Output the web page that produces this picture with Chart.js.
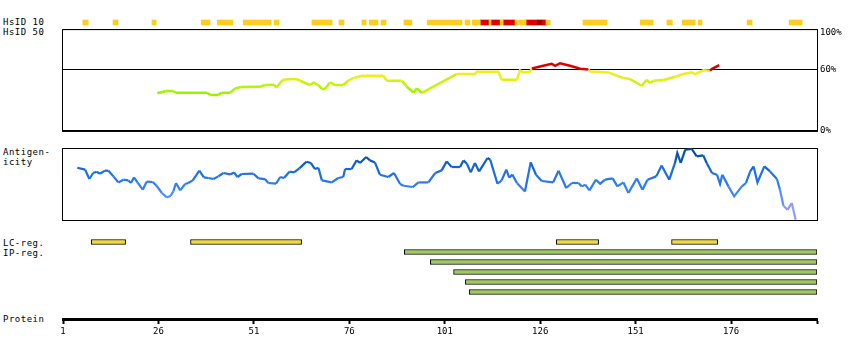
<!DOCTYPE html>
<html><head><meta charset="utf-8">
<script src="https://cdn.jsdelivr.net/npm/chart.js@4/dist/chart.umd.min.js"></script>
<style>
html,body{margin:0;padding:0;background:#fff;}
#wrap{position:relative;width:850px;height:360px;overflow:hidden;background:#fff;}
canvas{position:absolute;left:0;}
.lbl{position:absolute;left:3px;font-family:"DejaVu Sans Mono",monospace;font-size:9px;letter-spacing:0.5px;line-height:10px;color:#000;white-space:pre;}
</style></head><body>
<div id="wrap">
<div class="lbl" style="top:17px">HsID 10</div>
<div class="lbl" style="top:27px">HsID 50</div>
<div class="lbl" style="top:147px">Antigen-<br>icity</div>
<div class="lbl" style="top:237.5px">LC-reg.</div>
<div class="lbl" style="top:247.5px">IP-reg.</div>
<div class="lbl" style="top:314px">Protein</div>
<canvas id="c10" width="850" height="15" style="top:15px"></canvas>
<canvas id="c50" width="850" height="120" style="top:18px"></canvas>
<canvas id="cag" width="850" height="85" style="top:140px"></canvas>
<canvas id="creg" width="850" height="60" style="top:237px"></canvas>
<canvas id="cax" width="850" height="45" style="top:300px"></canvas>
</div>
<script>
// ---------- data ----------
const PROTEIN_END = 198.5;
const tickLabels = [1, 26, 51, 76, 101, 126, 151, 176];
const pctTicks = [0, 60, 100];

// HsID 10 strip: residue ranges
const hsid10Yellow = [[6.2,7.6],[14.1,15.4],[24.3,25.4],[37.2,39.5],[41.4,45.5],[48.2,55.5],[56.3,57.6],[66.2,71.5],[73.3,74.6],[79.3,80.4],[81.2,83.5],[84.3,85.6],[90.3,92.4],[96.4,105.5],[106.3,107.6],[108.2,110.3],[112.6,113.1],[115.5,116.3],[119.4,122.3],[127.5,128.6],[137.2,143.5],[152.2,155.6],[159.2,160.6],[163.2,166.6],[167.4,168.4],[180.2,181.5],[191.2,194.6]];
const hsid10Red = [[110.3,112.6],[113.1,115.5],[116.3,119.4],[122.3,125.2],[126.5,127.5]];
const hsid10DarkRed = [[125.2,126.5]];

// HsID 50 (% identity)
const hsid50Pos = [25.7,27.0,27.8,29.8,30.6,38.7,39.6,41.6,42.5,44.8,46.1,47.6,52.6,53.9,56.3,56.9,58.6,61.0,62.3,63.1,65.7,66.6,67.9,68.8,69.6,70.9,72.3,74.4,75.7,77.1,79.3,84.9,85.8,89.7,91.0,92.8,93.7,95.0,104.1,108.9,109.4,115.0,115.9,119.9,120.7,121.6,123.3,123.8,126.8,129.0,129.9,131.2,133.8,136.5,138.6,139.1,143.9,146.1,147.8,149.5,152.6,153.9,154.8,155.6,158.3,161.3,163.5,165.7,166.6,168.7,170.5,170.9,172.9];
const hsid50Val = [37.3,38.0,39.2,39.2,37.5,37.5,35.3,35.3,37.5,37.5,41.8,43.1,43.4,45.1,45.4,42.7,50.3,51.0,50.8,49.3,45.1,47.6,45.1,41.2,41.2,47.6,45.1,45.1,49.3,52.0,54.2,54.2,49.3,49.3,43.7,37.8,41.8,37.3,55.9,55.9,58.1,58.1,50.3,50.3,59.5,57.5,58.1,61.4,64.0,66.0,64.0,66.5,64.0,61.1,60.3,58.4,57.5,54.2,52.0,51.0,44.4,50.3,47.1,49.3,50.0,53.2,55.9,57.5,55.9,59.5,59.1,60.8,64.7];

// Antigenicity
const agPos = [4.75,6.8,7.9,8.9,9.8,10.7,12.0,12.9,14.2,15.5,16.8,18.1,18.8,19.6,20.5,21.9,22.9,24.5,25.5,26.9,28.2,29.2,29.9,30.6,31.7,33.0,33.8,35.0,36.7,37.9,39.1,40.4,41.7,43.0,44.8,45.8,46.7,47.8,50.9,52.2,53.9,54.8,56.8,57.9,58.9,60.3,61.5,62.9,64.8,65.9,67.0,67.9,68.8,71.4,73.1,74.4,74.9,76.6,77.9,78.8,80.4,81.4,82.7,84.0,86.2,87.7,89.3,90.2,92.6,94.1,96.7,98.5,100.2,101.5,102.8,105.0,105.9,106.8,107.8,108.9,110.0,112.2,112.9,114.8,115.9,117.1,117.9,118.7,119.9,122.0,123.5,124.9,126.4,129.4,130.8,132.8,134.3,136.0,136.9,137.8,138.9,140.6,141.7,143.0,145.0,146.2,147.8,149.1,151.3,152.8,154.1,156.4,157.8,159.8,161.3,161.9,162.8,164.0,165.7,167.0,168.7,169.6,171.0,172.3,173.1,173.7,175.3,176.8,178.8,179.9,181.0,181.9,182.9,184.7,186.2,188.0,188.8,189.7,190.8,191.9,192.9];
const agVal = [72.6,69.9,56.9,65.3,67.1,64.3,68.5,68.5,60.6,52.2,56.0,55.0,51.4,59.2,52.2,42.1,53.2,52.8,47.6,37.5,31.4,33.7,39.7,51.4,41.1,50.0,51.4,55.0,68.5,59.2,58.3,56.9,60.6,65.3,63.3,66.1,59.7,63.9,64.3,57.8,56.9,51.4,50.4,59.7,58.3,67.1,66.1,71.7,81.0,79.2,70.8,72.6,55.0,52.2,58.3,59.7,70.8,70.8,82.8,79.2,87.5,82.8,80.0,62.9,59.7,65.3,50.0,47.6,45.8,52.2,52.2,65.3,68.9,81.4,73.6,73.6,82.8,78.2,66.1,79.2,67.5,86.1,83.8,50.4,55.0,69.9,58.8,63.3,51.4,39.7,80.0,62.9,54.2,52.2,68.5,44.4,51.4,51.4,46.7,49.0,41.1,56.0,50.4,56.0,57.8,46.7,52.2,37.5,57.8,42.1,56.0,60.6,75.8,56.0,79.2,93.1,79.2,97.6,98.6,88.3,89.7,79.2,65.3,62.9,50.0,62.9,46.7,32.8,46.7,51.4,67.5,74.4,52.2,74.4,67.5,56.9,42.1,19.9,14.3,23.6,0.4];

// Regions
const regRows = ['LC', 'IP1', 'IP2', 'IP3', 'IP4', 'IP5'];
const lcRegions = [[8.4,17.4],[34.4,63.5],[130.2,141.3],[160.4,172.5]];
const ipRegions = [[90.4,198.5],[97.2,198.5],[103.3,198.5],[106.4,198.5],[107.4,198.5]];

// ---------- styling helpers ----------
const FONT = 'DejaVu Sans Mono';
function hexToRgb(h){h=h.replace('#','');return [0,2,4].map(i=>parseInt(h.substr(i,2),16));}
function ramp(stops, v){
  if (v <= stops[0][0]) return stops[0][1];
  for (let i = 1; i < stops.length; i++) {
    if (v <= stops[i][0]) {
      const [a, ca] = stops[i-1], [b, cb] = stops[i];
      const t = (v - a) / (b - a), A = hexToRgb(ca), B = hexToRgb(cb);
      return 'rgb(' + A.map((x,k)=>Math.round(x + (B[k]-x)*t)).join(',') + ')';
    }
  }
  return stops[stops.length-1][1];
}
const hsStops = [[36,'#99f000'],[45,'#bbf800'],[50,'#ddf010'],[54,'#f0ee22']];
function hsColor(v){ return v >= 59.9 ? '#dd0000' : ramp(hsStops, v); }
const agStops = [[0,'#a0a0ff'],[20,'#8c96ff'],[35,'#4a8cff'],[50,'#2a7cf6'],[65,'#1e6ee6'],[80,'#0a5cc8'],[95,'#004a9c']];
function agColor(v){ return ramp(agStops, v); }

const framePlugin = {
  id: 'frame',
  beforeDatasetsDraw(chart){
    const a = chart.chartArea, c = chart.ctx;
    c.save(); c.strokeStyle = '#000'; c.lineWidth = 1;
    c.strokeRect(a.left - 0.5, a.top + 0.5, a.right - a.left + 1, a.bottom - a.top);
    c.restore();
  }
};

const xHidden = { type: 'linear', min: 1, max: PROTEIN_END, display: false };
const base = {
  responsive: false, animation: false, devicePixelRatio: 1, events: [],
  plugins: { legend: { display: false }, tooltip: { enabled: false } }
};

// ---------- HsID 10 strip ----------
const stripRow = ['HsID10'];
const stripDs = (ranges, color) => ({
  data: ranges.map(r => ({ x: r, y: stripRow[0] })),
  backgroundColor: color, borderWidth: 0, barThickness: 5, grouped: false
});
new Chart(document.getElementById('c10'), {
  type: 'bar',
  data: { labels: stripRow, datasets: [stripDs(hsid10Yellow, '#ffcc22'), stripDs(hsid10Red, '#dd0000'), stripDs(hsid10DarkRed, '#990000')] },
  options: Object.assign({}, base, {
    indexAxis: 'y',
    layout: { padding: { left: 63, right: 33, top: 0, bottom: 0 } },
    scales: { x: xHidden, y: { type: 'category', display: false } }
  })
});

// ---------- HsID 50 ----------
new Chart(document.getElementById('c50'), {
  type: 'line',
  data: { datasets: [{
    data: hsid50Pos.map((x, i) => ({ x, y: hsid50Val[i] })),
    borderColor: '#aaee00', borderWidth: 2.5, pointRadius: 0, tension: 0,
    segment: { borderColor: ctx => hsColor((ctx.p0.parsed.y + ctx.p1.parsed.y) / 2) }
  }] },
  options: Object.assign({}, base, {
    layout: { padding: { left: 63, right: 0, top: 10, bottom: 7 } },
    scales: {
      x: xHidden,
      y: { type: 'linear', min: 0, max: 100, position: 'right',
        afterBuildTicks: s => { s.ticks = pctTicks.map(v => ({ value: v })); },
        afterFit: s => { s.width = 33; },
        border: { display: false },
        grid: { color: '#000', lineWidth: 1, drawTicks: false },
        ticks: { padding: 3, color: '#000', font: { family: FONT, size: 9, lineHeight: 0.9 },
          callback: v => v === 100 ? ['', v + '%'] : v + '%' } }
    }
  }),
  plugins: [framePlugin]
});

// ---------- Antigenicity ----------
new Chart(document.getElementById('cag'), {
  type: 'line',
  data: { datasets: [{
    data: agPos.map((x, i) => ({ x, y: agVal[i] })),
    borderColor: '#2a7cf6', borderWidth: 2.2, pointRadius: 0, tension: 0,
    segment: { borderColor: ctx => agColor((ctx.p0.parsed.y + ctx.p1.parsed.y) / 2) }
  }] },
  options: Object.assign({}, base, {
    layout: { padding: { left: 63, right: 33, top: 8, bottom: 5 } },
    scales: { x: xHidden, y: { type: 'linear', min: 0, max: 100, display: false } }
  }),
  plugins: [framePlugin]
});

// ---------- LC / IP regions ----------
new Chart(document.getElementById('creg'), {
  type: 'bar',
  data: { labels: regRows, datasets: [
    { data: lcRegions.map(r => ({ x: r, y: regRows[0] })), backgroundColor: '#f0d840', borderColor: '#000', borderWidth: 1, borderSkipped: false, barThickness: 5, grouped: false },
    { data: ipRegions.map((r, i) => ({ x: r, y: regRows[i + 1] })), backgroundColor: '#a0c860', borderColor: '#000', borderWidth: 1, borderSkipped: false, barThickness: 5, grouped: false }
  ] },
  options: Object.assign({}, base, {
    indexAxis: 'y',
    layout: { padding: { left: 63, right: 33, top: 0, bottom: 0 } },
    scales: { x: xHidden, y: { type: 'category', display: false } }
  })
});

// ---------- Protein axis ----------
new Chart(document.getElementById('cax'), {
  type: 'line',
  data: { datasets: [] },
  options: Object.assign({}, base, {
    layout: { padding: { left: 63, right: 33, top: 0, bottom: 0 } },
    scales: {
      x: { type: 'linear', min: 1, max: PROTEIN_END, position: 'bottom',
        afterBuildTicks: s => { s.ticks = tickLabels.concat([PROTEIN_END]).map(v => ({ value: v })); },
        afterFit: s => { s.height = 26; },
        border: { display: true, color: '#000', width: 3 },
        grid: { drawOnChartArea: false, drawTicks: true, tickLength: 5, tickWidth: 2, tickColor: '#000', color: '#000' },
        ticks: { autoSkip: false, maxRotation: 0, padding: 2, color: '#000', font: { family: FONT, size: 9 },
          callback: v => tickLabels.includes(v) ? String(v) : '' } },
      y: { display: false, min: 0, max: 1 }
    }
  })
});
</script>
</body></html>
